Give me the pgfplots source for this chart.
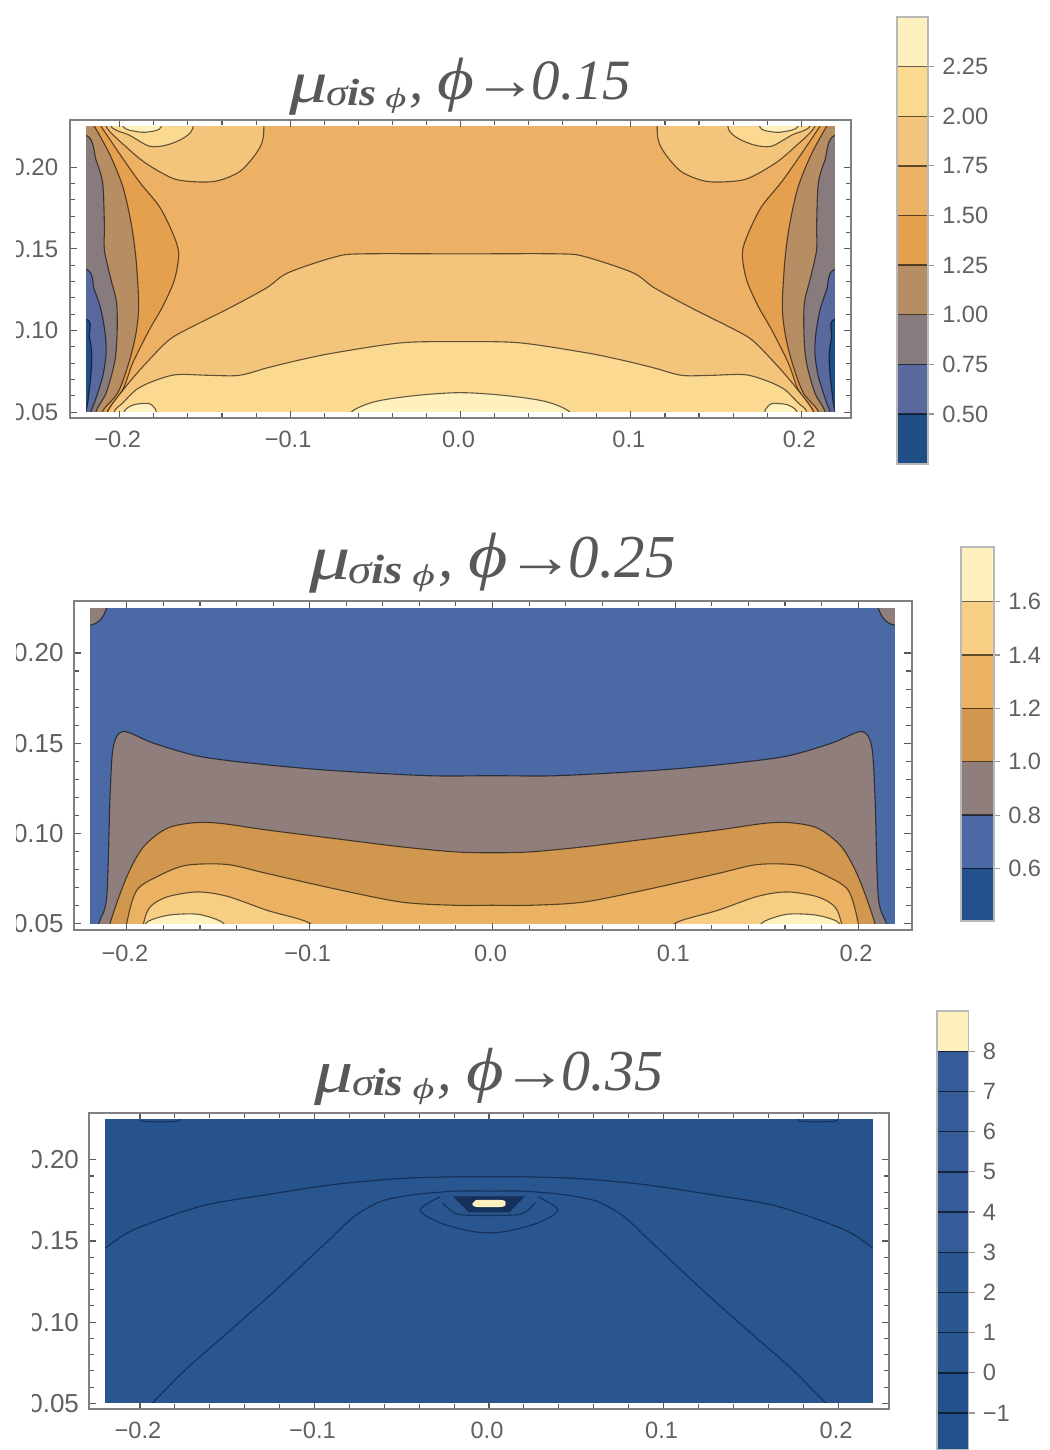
\documentclass[border=0pt]{standalone}
\usepackage{pgfplots}
\usepackage{pgfplotstable}
\usepackage{fontspec}
\usepackage{graphicx}
\pgfplotsset{compat=1.18}
\setmainfont{Liberation Sans}
\newfontfamily\tf{Liberation Serif}
\definecolor{tc}{HTML}{606060}
\definecolor{tt}{HTML}{585858}
\definecolor{ca}{HTML}{1F4D85}
\definecolor{cb}{HTML}{59699E}
\definecolor{cc}{HTML}{877B7E}
\definecolor{cd}{HTML}{B78D63}
\definecolor{ce}{HTML}{E4A04F}
\definecolor{cf}{HTML}{ECB165}
\definecolor{cg}{HTML}{F3C47B}
\definecolor{ch}{HTML}{FBD991}
\definecolor{ci}{HTML}{FEF1BE}
\definecolor{pa}{HTML}{22508A}
\definecolor{pb}{HTML}{4A69A5}
\definecolor{pc}{HTML}{8F7E7C}
\definecolor{pd}{HTML}{D1974F}
\definecolor{pe}{HTML}{EBB263}
\definecolor{pf}{HTML}{F7CE84}
\definecolor{qa}{HTML}{29568F}
\definecolor{qb}{HTML}{27538C}
\definecolor{qd}{HTML}{15305A}
\definecolor{qe}{HTML}{355B98}

\pgfplotsset{
  every axis title shift=0pt,
  cplot/.style={scale only axis,anchor=south west,
    xmin=-0.2292,xmax=0.2292,ymin=0.0465,ymax=0.2288,
    axis on top,
    xtick={-0.2,-0.1,0,0.1,0.2},
    xticklabels={−0.2,−0.1,0.0,0.1,0.2},
    ytick={0.05,0.10,0.15,0.20},
    yticklabels={0.05,0.10,0.15,0.20},
    minor x tick num=4,minor y tick num=4,
    tick align=inside,tick pos=both,
    major tick length=3.6pt,minor tick length=2.6pt,
    tick style={color=black!65,line width=0.55pt},
    axis line style={color=black!50,line width=1pt},
    ticklabel style={text=tc},
    xticklabel style={font=\fontsize{11.8}{12}\selectfont,xshift=-1pt},
    title style={at={(axis description cs:0.5,1)},anchor=base,inner sep=0pt,text=tt},
  },
  bar/.style={scale only axis,anchor=south west,
    xmin=0,xmax=1,xtick=\empty,
    tick pos=right,yticklabel pos=right,tick align=outside,
    major tick length=3pt,
    tick style={color=black!40,line width=0.6pt},
    axis line style={color=black!28,line width=0.8pt},
    ticklabel style={font=\fontsize{11.8}{12}\selectfont,text=tc},
    yticklabel style={xshift=0.6pt},
    axis on top,
  },
  ln/.style={draw=black,draw opacity=0.6,line width=0.55pt,smooth,tension=0.5},
}
\newcommand\reg[2]{%
  \addplot[fill=#2,ln] table[x=x,y=y]{#1} -- cycle;
  \addplot[fill=#2,ln] table[x expr=-\thisrow{x},y=y]{#1} -- cycle;}
\newcommand\band[3]{\addplot[fill=#3,draw=none] coordinates {(0,#1)(1,#1)(1,#2)(0,#2)} -- cycle;}
\newcommand\bline[1]{\addplot[draw=black,draw opacity=0.6,line width=0.7pt] coordinates {(0,#1)(1.08,#1)};}
\newcommand\masks{%
  \addplot[fill=white,draw=none] coordinates {(-0.3,0.03)(-0.22,0.03)(-0.22,0.3)(-0.3,0.3)} -- cycle;
  \addplot[fill=white,draw=none] coordinates {(0.3,0.03)(0.22,0.03)(0.22,0.3)(0.3,0.3)} -- cycle;
  \addplot[fill=white,draw=none] coordinates {(-0.3,0.03)(0.3,0.03)(0.3,0.05)(-0.3,0.05)} -- cycle;
  \addplot[fill=white,draw=none] coordinates {(-0.3,0.225)(0.3,0.225)(0.3,0.3)(-0.3,0.3)} -- cycle;}
% #1 size, #2 subscript size, #3 sub-subscript size, #4 value
\newcommand\ttl[4]{{\tf\itshape\fontsize{#1}{#1}\selectfont
  \raisebox{-0.04em}{\scalebox{1.35}[1.05]{μ}}\kern-0.03em\raisebox{-0.1em}{\fontsize{#2}{#2}\selectfont\scalebox{1.15}[1]{σ\kern-0.02em\textbf{is}}\kern0.24em\raisebox{-0.06em}{\fontsize{#3}{#3}\selectfont\scalebox{1.45}[1]{ϕ}}}\kern0.06em,\kern0.24em\scalebox{1.25}[1.05]{ϕ}\kern-0.02em\scalebox{1.12}[1]{\textbf{→}}\kern-0.1em #4}}

% plot 1, left side curves
\pgfplotstableread{
x y
-0.211 0.225
-0.2002 0.2083
-0.1885 0.191
-0.1767 0.1758
-0.1689 0.1595
-0.1654 0.1473
-0.1679 0.131
-0.1748 0.1147
-0.1826 0.1005
-0.1924 0.0801
-0.1982 0.0638
-0.207 0.0506
-0.207 0.04
-0.25 0.04
-0.25 0.24
-0.211 0.24
}\AE
\pgfplotstableread{
x y
-0.2149 0.225
-0.2061 0.2083
-0.1982 0.188
-0.1933 0.1656
-0.1904 0.1432
-0.1889 0.1147
-0.1908 0.0964
-0.1953 0.0781
-0.2012 0.0618
-0.21 0.0506
-0.21 0.04
-0.25 0.04
-0.25 0.24
-0.2149 0.24
}\AD
\pgfplotstableread{
x y
-0.25 0.2195
-0.2198 0.2195
-0.2139 0.2043
-0.21 0.19
-0.209 0.1636
-0.209 0.1493
-0.2051 0.131
-0.2018 0.1167
-0.2016 0.0964
-0.2031 0.0801
-0.208 0.0618
-0.2139 0.0506
-0.2139 0.04
-0.25 0.04
}\AC
\pgfplotstableread{
x y
-0.25 0.1375
-0.2198 0.1375
-0.2149 0.1249
-0.211 0.1127
-0.2086 0.0984
-0.208 0.0862
-0.21 0.072
-0.2149 0.0557
-0.2168 0.0506
-0.2168 0.04
-0.25 0.04
}\AB
\pgfplotstableread{
x y
-0.25 0.107
-0.2198 0.107
-0.2178 0.0964
-0.2164 0.0862
-0.2168 0.074
-0.2188 0.0557
-0.2198 0.0506
-0.2198 0.04
-0.25 0.04
}\AA
\pgfplotstableread{
x y
-0.208 0.24
-0.208 0.225
-0.1963 0.2124
-0.1845 0.2022
-0.1689 0.1931
-0.1572 0.1911
-0.1435 0.1914
-0.1298 0.1971
-0.12 0.2083
-0.1157 0.2185
-0.1157 0.24
}\AG
\pgfplotstableread{
x y
-0.2051 0.24
-0.2051 0.225
-0.1943 0.2195
-0.1826 0.2128
-0.1728 0.2134
-0.163 0.2175
-0.1572 0.2236
-0.1562 0.24
}\AH
\pgfplotstableread{
x y
-0.1982 0.24
-0.1982 0.225
-0.1894 0.2216
-0.1826 0.2216
-0.1757 0.2246
-0.1757 0.24
}\AI
\pgfplotstableread{
x y
-0.1973 0.04
-0.1973 0.0506
-0.1914 0.0547
-0.1826 0.0553
-0.1797 0.0526
-0.1787 0.0506
-0.1787 0.04
}\AL
% plot 2 humps
\pgfplotstableread{
x y
-0.1909 0.04
-0.1909 0.05
-0.1873 0.0593
-0.1781 0.0648
-0.1617 0.0676
-0.1452 0.0652
-0.1233 0.0574
-0.0995 0.05
-0.0995 0.04
}\BF
\pgfplotstableread{
x y
-0.1898 0.04
-0.1898 0.05
-0.1818 0.0537
-0.1726 0.0552
-0.1598 0.055
-0.147 0.05
-0.147 0.04
}\BG
\pgfplotstableread{
x y
-0.25 0.2155
-0.2195 0.2155
-0.211 0.225
-0.211 0.24
-0.25 0.24
}\BC
% plot 3 curves
\pgfplotstableread{
x y
-0.2 0.24
-0.2 0.2253
-0.1942 0.2235
-0.1827 0.2235
-0.177 0.2253
-0.177 0.24
}\CC

\begin{document}
\begin{tikzpicture}
\path[use as bounding box] (0,0) rectangle (524.5pt,-725pt);

% ---------- plot 1
\begin{axis}[cplot,at={(35pt,-209pt)},width=390.5pt,height=149pt,
  yticklabel style={font=\fontsize{12}{12}\selectfont,xshift=-2.4pt},
  xticklabel style={yshift=-3pt},
  title style={yshift=10pt},
  title={\ttl{28.5}{19}{14}{0.15}}]
\addplot[fill=cf,draw=none] coordinates {(-0.3,0.03)(0.3,0.03)(0.3,0.3)(-0.3,0.3)} -- cycle;
\reg{\AE}{ce}
\reg{\AD}{cd}
\reg{\AC}{cc}
\reg{\AB}{cb}
\reg{\AA}{ca}
\reg{\AG}{cg}
\reg{\AH}{ch}
\reg{\AI}{ci}
\addplot[fill=cg,ln] coordinates {(-0.207,0.04)(-0.207,0.0506)(-0.1963,0.0659)(-0.1845,0.0801)(-0.1709,0.0944)(-0.1572,0.1025)(-0.1376,0.1127)(-0.1141,0.1259)(-0.1013,0.1353)(-0.0737,0.145)(-0.0584,0.1469)(0,0.1469)(0.0584,0.1469)(0.0737,0.145)(0.1013,0.1353)(0.1141,0.1259)(0.1376,0.1127)(0.1572,0.1025)(0.1709,0.0944)(0.1845,0.0801)(0.1963,0.0659)(0.207,0.0506)(0.207,0.04)} -- cycle;
\addplot[fill=ch,ln] coordinates {(-0.2031,0.04)(-0.2031,0.0506)(-0.1982,0.0557)(-0.1904,0.0638)(-0.1806,0.0689)(-0.1669,0.073)(-0.1474,0.0726)(-0.1298,0.0726)(-0.113,0.0773)(-0.0935,0.0822)(-0.0737,0.0864)(-0.0346,0.0925)(0,0.0932)(0.0346,0.0925)(0.0737,0.0864)(0.0935,0.0822)(0.113,0.0773)(0.1298,0.0726)(0.1474,0.0726)(0.1669,0.073)(0.1806,0.0689)(0.1904,0.0638)(0.1982,0.0557)(0.2031,0.0506)(0.2031,0.04)} -- cycle;
\addplot[fill=ci,ln] coordinates {(-0.0642,0.04)(-0.0642,0.05)(-0.0502,0.0565)(-0.0267,0.0602)(0,0.062)(0.0267,0.0602)(0.0502,0.0565)(0.0642,0.05)(0.0642,0.04)} -- cycle;
\reg{\AL}{ci}
\masks
\end{axis}

\begin{axis}[bar,at={(448.5pt,-232pt)},width=15.5pt,height=223.5pt,
  ymin=0.248,ymax=2.5,
  ytick={0.5,0.75,1,1.25,1.5,1.75,2,2.25},
  yticklabels={0.50,0.75,1.00,1.25,1.50,1.75,2.00,2.25}]
\band{0.248}{0.5}{ca}\band{0.5}{0.75}{cb}\band{0.75}{1}{cc}\band{1}{1.25}{cd}\band{1.25}{1.5}{ce}
\band{1.5}{1.75}{cf}\band{1.75}{2}{cg}\band{2}{2.25}{ch}\band{2.25}{2.5}{ci}
\bline{0.5}\bline{0.75}\bline{1}\bline{1.25}\bline{1.5}\bline{1.75}\bline{2}\bline{2.25}
\end{axis}

% ---------- plot 2
\begin{axis}[cplot,at={(36.75pt,-465pt)},width=419pt,height=164.5pt,
  yticklabel style={font=\fontsize{13}{13}\selectfont,xshift=-1.4pt},
  xticklabel style={yshift=-4pt},
  title style={yshift=12pt},
  title={\ttl{30.5}{20.5}{15}{0.25}}]
\addplot[fill=pb,draw=none] coordinates {(-0.3,0.03)(0.3,0.03)(0.3,0.3)(-0.3,0.3)} -- cycle;
\reg{\BC}{pc}
\addplot[fill=pc,ln] coordinates {(-0.2154,0.04)(-0.2154,0.05)(-0.211,0.0648)(-0.2092,0.1204)(-0.2074,0.1481)(-0.2019,0.1565)(-0.1854,0.15)(-0.1598,0.1426)(-0.1233,0.138)(-0.0867,0.1348)(-0.0355,0.132)(0,0.132)(0.0355,0.132)(0.0867,0.1348)(0.1233,0.138)(0.1598,0.1426)(0.1854,0.15)(0.2019,0.1565)(0.2074,0.1481)(0.2092,0.1204)(0.211,0.0648)(0.2154,0.05)(0.2154,0.04)} -- cycle;
\addplot[fill=pd,ln] coordinates {(-0.2092,0.04)(-0.2092,0.05)(-0.2001,0.0759)(-0.1909,0.0926)(-0.1781,0.1028)(-0.1635,0.1059)(-0.1489,0.1056)(-0.1233,0.1019)(-0.0867,0.0972)(-0.0501,0.0926)(-0.0208,0.0898)(0,0.0893)(0.0208,0.0898)(0.0501,0.0926)(0.0867,0.0972)(0.1233,0.1019)(0.1489,0.1056)(0.1635,0.1059)(0.1781,0.1028)(0.1909,0.0926)(0.2001,0.0759)(0.2092,0.05)(0.2092,0.04)} -- cycle;
\addplot[fill=pe,ln] coordinates {(-0.2001,0.04)(-0.2001,0.05)(-0.1946,0.0685)(-0.1818,0.0769)(-0.1672,0.0824)(-0.1452,0.0828)(-0.1233,0.0778)(-0.0867,0.0694)(-0.0501,0.062)(-0.0208,0.0602)(0,0.0602)(0.0208,0.0602)(0.0501,0.062)(0.0867,0.0694)(0.1233,0.0778)(0.1452,0.0828)(0.1672,0.0824)(0.1818,0.0769)(0.1946,0.0685)(0.2001,0.05)(0.2001,0.04)} -- cycle;
\reg{\BF}{pf}
\reg{\BG}{ci}
\masks
\end{axis}

\begin{axis}[bar,at={(480.5pt,-460.5pt)},width=16.5pt,height=187pt,
  ymin=0.403,ymax=1.805,
  ytick={0.6,0.8,1,1.2,1.4,1.6},
  yticklabels={0.6,0.8,1.0,1.2,1.4,1.6}]
\band{0.403}{0.6}{pa}\band{0.6}{0.8}{pb}\band{0.8}{1}{pc}\band{1}{1.2}{pd}\band{1.2}{1.4}{pe}\band{1.4}{1.6}{pf}\band{1.6}{1.805}{ci}
\bline{0.6}\bline{0.8}\bline{1}\bline{1.2}\bline{1.4}\bline{1.6}
\end{axis}

% ---------- plot 3
\begin{axis}[cplot,at={(44.5pt,-704.5pt)},width=400pt,height=148pt,
  yticklabel style={font=\fontsize{13}{13}\selectfont,xshift=-1.5pt},
  xticklabel style={yshift=-3pt},
  title style={yshift=11.5pt},
  title={\ttl{29}{19.5}{14.5}{0.35}}]
\addplot[fill=qb,draw=none] coordinates {(-0.3,0.03)(0.3,0.03)(0.3,0.3)(-0.3,0.3)} -- cycle;
\addplot[fill=qa,draw=qd,line width=0.6pt,smooth,tension=0.5] coordinates {(-0.25,0.04)(-0.25,0.125)(-0.22,0.1457)(-0.2034,0.157)(-0.1651,0.1714)(-0.1268,0.1786)(-0.0885,0.1848)(-0.0502,0.1885)(-0.0195,0.1895)(0,0.1895)(0.0195,0.1895)(0.0502,0.1885)(0.0885,0.1848)(0.1268,0.1786)(0.1651,0.1714)(0.2034,0.157)(0.22,0.1457)(0.25,0.125)(0.25,0.04)} -- cycle;
\addplot[draw=qd,line width=0.55pt,smooth,tension=0.4] coordinates {(-0.1931,0.05)(-0.1731,0.0716)(-0.1501,0.0932)(-0.1232,0.1189)(-0.0925,0.1498)(-0.0772,0.1652)(-0.0618,0.1745)(-0.0426,0.1786)(-0.0195,0.1807)(0,0.1807)(0.0195,0.1807)(0.0426,0.1786)(0.0618,0.1745)(0.0772,0.1652)(0.0925,0.1498)(0.1232,0.1189)(0.1501,0.0932)(0.1731,0.0716)(0.1931,0.05)};
\addplot[draw=qd,line width=0.55pt,smooth] coordinates {(-0.028,0.1772)(-0.0395,0.1691)(-0.028,0.1611)(-0.008,0.1556)(0.008,0.1556)(0.028,0.1611)(0.0395,0.1691)(0.028,0.1772)};
\addplot[draw=qd,line width=0.55pt,smooth] coordinates {(-0.0264,0.1735)(-0.0223,0.1691)(-0.0149,0.166)(0.0149,0.166)(0.0223,0.1691)(0.0264,0.1735)};
\addplot[fill=qd,draw=qd,line width=0.4pt] coordinates {(-0.02,0.1772)(0.02,0.1772)(0.0115,0.1679)(-0.0115,0.1679)} -- cycle;
\addplot[fill=ci,draw=none,smooth] coordinates {(-0.0095,0.1731)(-0.0075,0.171)(0.0075,0.171)(0.0095,0.1731)(0.0075,0.1752)(-0.0075,0.1752)} -- cycle;
\addplot[fill=qb,draw=qd,line width=0.55pt,smooth] table[x=x,y=y]{\CC} -- cycle;
\addplot[fill=qb,draw=qd,line width=0.55pt,smooth] table[x expr=-\thisrow{x},y=y]{\CC} -- cycle;
\masks
\end{axis}

\begin{axis}[bar,at={(468.5pt,-725pt)},width=15.75pt,height=219.5pt,
  ymin=-1.92,ymax=9,
  ytick={-1,0,1,2,3,4,5,6,7,8},
  yticklabels={−1,0,1,2,3,4,5,6,7,8}]
\band{-1.92}{-1}{pa}\band{-1}{0}{pa}\band{0}{1}{qa}\band{1}{2}{qa}\band{2}{3}{qa}\band{3}{4}{qe}\band{4}{5}{qe}\band{5}{6}{qe}\band{6}{7}{qe}\band{7}{8}{qe}\band{8}{9}{ci}
\bline{-1}\bline{0}\bline{1}\bline{2}\bline{3}\bline{4}\bline{5}\bline{6}\bline{7}\bline{8}
\end{axis}

% the reference is cropped at its left edge
\fill[white] (-1pt,1pt) rectangle (8pt,-726pt);
\fill[white] (-1pt,-560pt) rectangle (16pt,-712pt);
\end{tikzpicture}
\end{document}
